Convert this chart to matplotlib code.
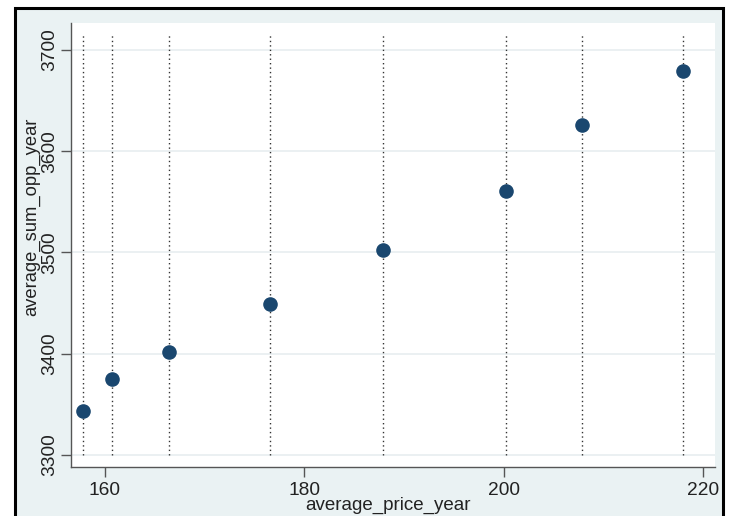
import matplotlib
matplotlib.use("Agg")
import matplotlib.pyplot as plt
from matplotlib.patches import Rectangle

# Yearly averages: price vs. summed opportunities
avg_price_year = [157.8, 160.7, 166.4, 176.6, 187.9, 200.2, 207.9, 218.0]
avg_sum_opp_year = [3343, 3375, 3402, 3449, 3502, 3561, 3626, 3679]

x_ticks = [160, 180, 200, 220]
y_ticks = [3300, 3400, 3500, 3600, 3700]

plt.rcParams["font.family"] = ["Liberation Sans", "DejaVu Sans"]

W, H = 733, 516
fig = plt.figure(figsize=(W / 100, H / 100), dpi=100, facecolor="white")

# light blue-grey graph region with a black outer frame
fig.patches.append(Rectangle((15 / W, -0.05), (723 - 15) / W, (H - 8) / H + 0.05,
                             transform=fig.transFigure, facecolor="#eaf2f3",
                             edgecolor="black", linewidth=2.2, zorder=-5))

ax = fig.add_axes([71 / W, (H - 467) / H, (715 - 71) / W, (467 - 23) / H])
ax.set_facecolor("white")

ax.set_xlim(156.6, 221.2)
ax.set_ylim(3288, 3726.7)

# horizontal grid
for yv in y_ticks:
    ax.axhline(yv, color="#e8eef0", linewidth=1.2, zorder=1)

# dotted reference line at every x value
ax.vlines(avg_price_year, 3300, 3717, colors="#333333", linestyles=(0, (1, 2.2)),
          linewidth=1.0, zorder=2)

ax.scatter(avg_price_year, avg_sum_opp_year, s=90, color="#1a476f",
           edgecolors="#1a476f", zorder=3)

ax.set_xticks(x_ticks)
ax.set_yticks(y_ticks)
ax.tick_params(axis="both", direction="out", length=7, width=1.0, color="#555555",
               labelsize=13.8, labelcolor="#222222")
ax.tick_params(axis="x", pad=4)
ax.tick_params(axis="y", pad=2)
for lbl in ax.get_yticklabels():
    lbl.set_rotation(90)
    lbl.set_va("center")

for side in ("top", "right"):
    ax.spines[side].set_visible(False)
for side in ("left", "bottom"):
    ax.spines[side].set_color("#555555")
    ax.spines[side].set_linewidth(1.0)

ax.set_xlabel("average_price_year", fontsize=13.5, color="#222222")
ax.xaxis.set_label_coords(0.493, -0.068)
ax.set_ylabel("average_sum_opp_year", fontsize=13.2, color="#222222")
ax.yaxis.set_label_coords(-0.048, 0.563)

fig.savefig("out.png", dpi=100, facecolor="white")
